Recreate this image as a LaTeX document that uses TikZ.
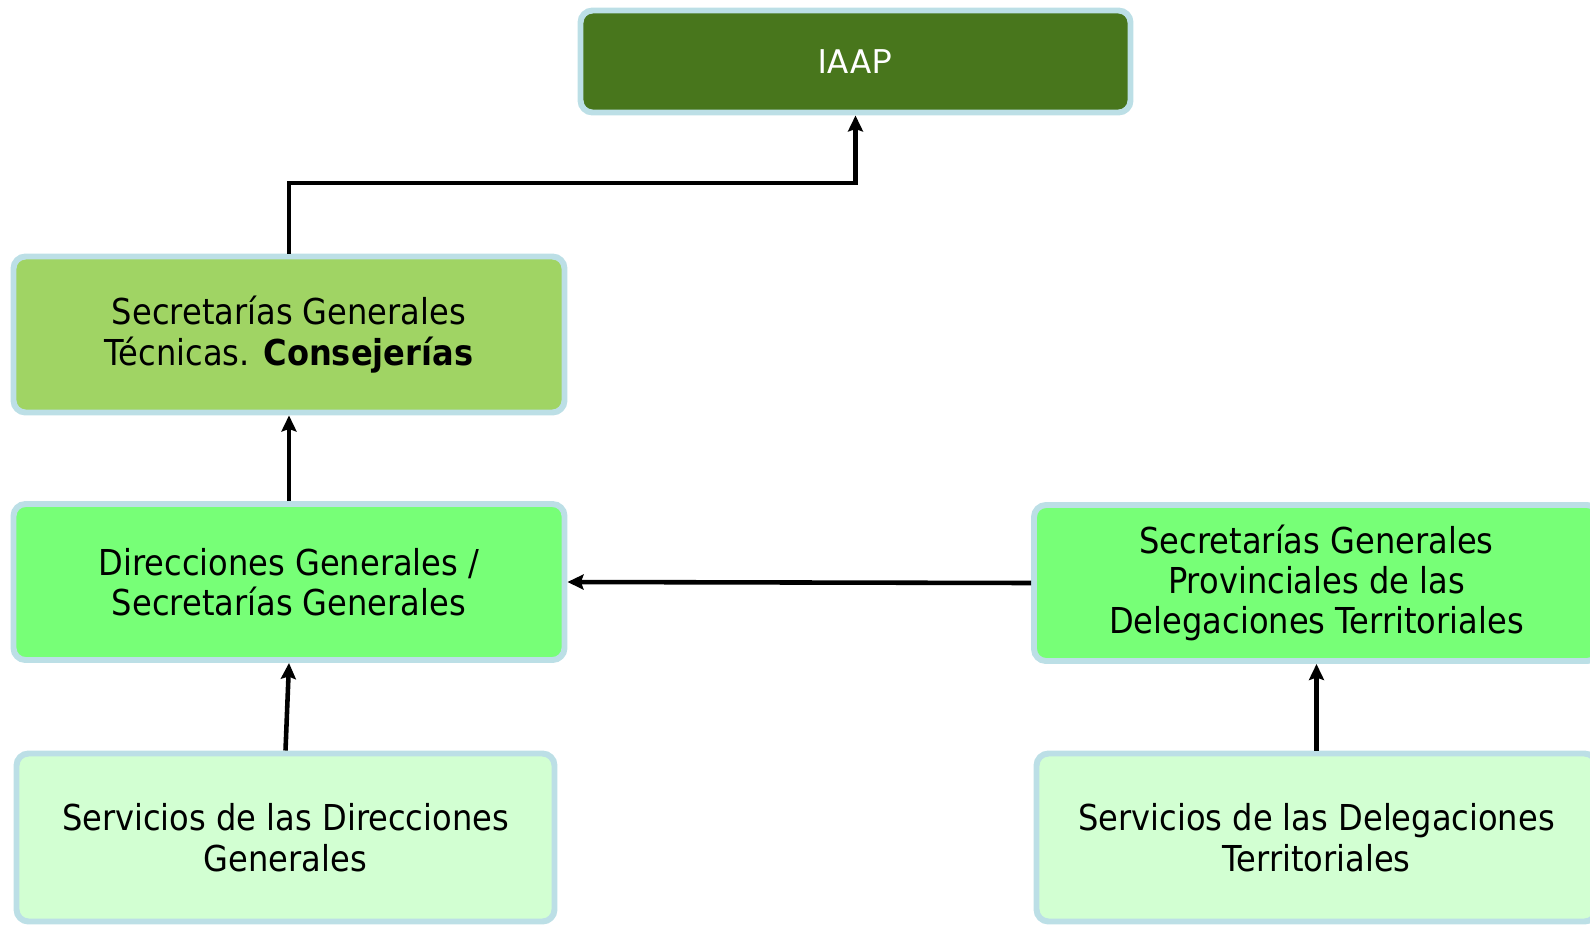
\documentclass[tikz,border=0pt]{standalone}
\usepackage{fontspec}
\setmainfont{DejaVu Sans}[FakeStretch=0.9]
\newfontfamily\iaapfont{Poppins}
\usepackage{tikz}
\usepackage{xcolor}
\usetikzlibrary{arrows.meta}
\definecolor{edgeblue}{HTML}{BCDFE6}
\definecolor{darkgreen}{HTML}{48761C}
\definecolor{midgreen}{HTML}{A0D464}
\definecolor{brightgreen}{HTML}{77FF77}
\definecolor{palegreen}{HTML}{D2FFD2}
\tikzstyle{boxes} = [rectangle, rounded corners=0.24cm, draw=edgeblue, line width=3.4pt,
minimum width=11.02cm, minimum height=3.12cm, align=center, font=\fontsize{20.3}{23}\selectfont]
\tikzstyle{link} = [line width=2.6pt, -{Stealth[length=0.32cm, width=0.3cm, inset=0.05cm]}]

\begin{document}
\begin{tikzpicture}
        \useasboundingbox (0,0) rectangle (31.8,-18.5);

        % Boxes
        \node[boxes, fill=darkgreen, minimum width=11cm, minimum height=2.04cm, text=white,
            font=\iaapfont\fontsize{19.5}{22}\selectfont] at (17.11,-1.23) (iaap) {IAAP};
        \node[boxes, fill=midgreen] at (5.78,-6.69) (sgt) {Secretarías Generales\\Técnicas. \textbf{Consejerías}};
        \node[boxes, fill=brightgreen] at (5.78,-11.64) (dg) {Direcciones Generales /\\Secretarías Generales};
        \node[boxes, fill=brightgreen, minimum width=11.3cm] at (26.33,-11.66) (sgp) {Secretarías Generales\\Provinciales de las\\Delegaciones Territoriales};
        \node[boxes, fill=palegreen, minimum width=10.76cm, minimum height=3.36cm] at (5.71,-16.75) (sdg) {Servicios de las Direcciones\\Generales};
        \node[boxes, fill=palegreen, minimum width=11.2cm, minimum height=3.36cm] at (26.33,-16.75) (sdt) {Servicios de las Delegaciones\\Territoriales};

        % Arrows
        \coordinate (bend) at (17.11,-3.66);
        \draw[link] (sgt.north) |- (bend) -- (iaap.south);
        \draw[link] (dg.north) -- (sgt.south);
        \draw[link] (sdg.north) -- (dg.south);
        \draw[link] (sgp.west) -- (dg.east);
        \draw[link] (sdt.north) -- (sgp.south);
    \end{tikzpicture}
\end{document}
